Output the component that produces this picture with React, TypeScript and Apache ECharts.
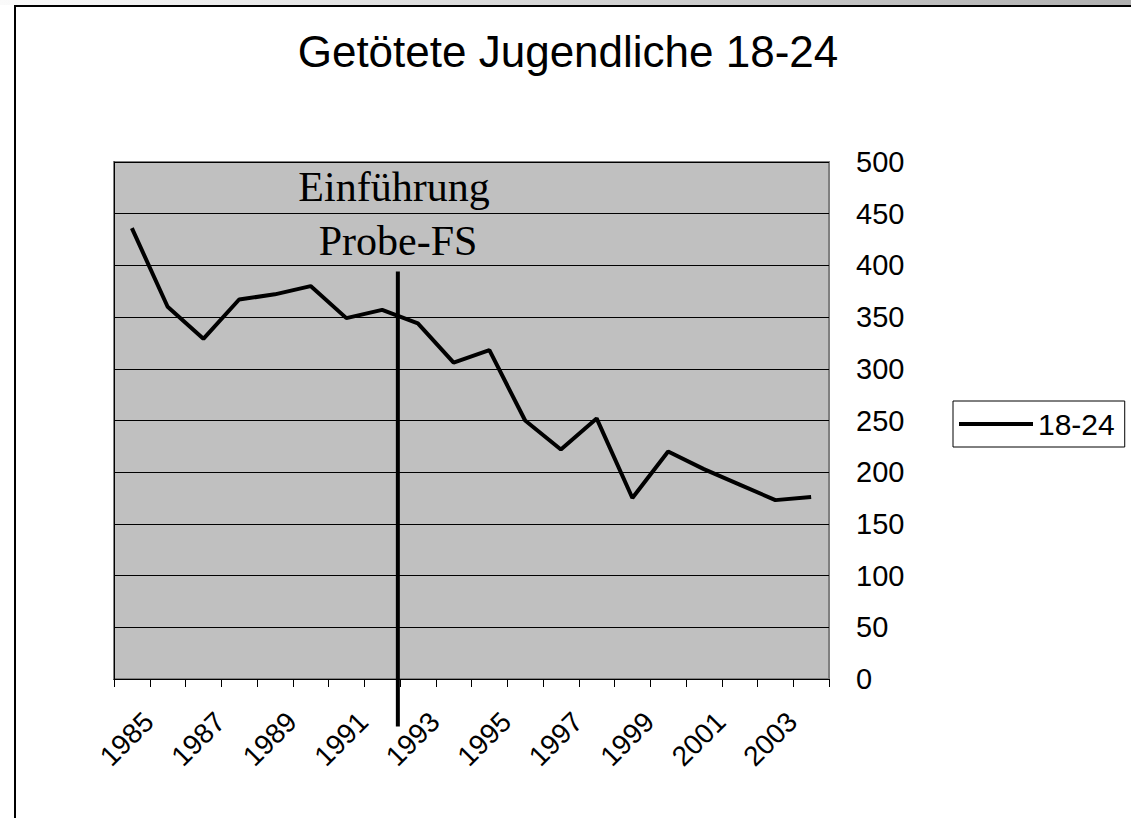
import React, { useEffect, useRef } from "react";
import * as echarts from "echarts";

const years = [
  "1985", "1986", "1987", "1988", "1989", "1990", "1991", "1992", "1993", "1994",
  "1995", "1996", "1997", "1998", "1999", "2000", "2001", "2002", "2003", "2004",
];
const killed1824 = [436, 360, 329, 367, 372, 380, 349, 357, 344, 306, 318, 250, 222, 252, 175, 220, 203, 188, 173, 176];
const seriesName = "18-24";
const titleText = "Getötete Jugendliche 18-24";
const markerLabel = ["Einführung", "Probe-FS"];
const markerPos = 7.94; // between 1992 and 1993 (category index units)
const markerRange = [394, -46];

export default function App() {
  const ref = useRef<HTMLDivElement>(null);
  useEffect(() => {
    if (!ref.current) return;
    const chart = echarts.init(ref.current, undefined, { renderer: "svg" });
    chart.setOption({
      animation: false,
      backgroundColor: "#ffffff",
      title: {
        text: titleText,
        left: 563,
        textAlign: "center",
        top: 24,
        textStyle: { fontFamily: "Liberation Sans", fontSize: 44, fontWeight: "normal", color: "#000" },
      },
      legend: {
        data: [{ name: seriesName, icon: "rect" }],
        left: 953,
        top: 401,
        orient: "vertical",
        itemWidth: 74,
        itemHeight: 4,
        itemGap: 0,
        padding: [8, 10, 8, 6],
        borderColor: "#000",
        borderWidth: 1,
        backgroundColor: "#fff",
        borderRadius: 0,
        textStyle: { fontFamily: "Liberation Sans", fontSize: 30, lineHeight: 30, color: "#000" },
      },
      grid: [
        {
          left: 114,
          top: 162,
          width: 715,
          height: 517,
          show: true,
          backgroundColor: "#c0c0c0",
          borderColor: "#808080",
          borderWidth: 2,
        },
        {
          left: 131,
          top: 162,
          width: 715,
          height: 517,
          show: false,
        },
      ],
      xAxis: [
        {
          type: "category",
          data: years,
          gridIndex: 0,
          boundaryGap: true,
          axisLine: { lineStyle: { color: "#000", width: 1 } },
          axisTick: { show: true, interval: 0, length: 8, lineStyle: { color: "#000" } },
          axisLabel: { show: false },
          splitLine: { show: false },
        },
        {
          type: "value",
          gridIndex: 0,
          min: 0,
          max: 20,
          show: false,
        },
        {
          type: "category",
          data: years,
          gridIndex: 1,
          boundaryGap: true,
          axisLine: { show: false },
          axisTick: { show: false },
          axisLabel: {
            interval: 1,
            rotate: 45,
            margin: 38,
            fontFamily: "Liberation Sans",
            fontSize: 28,
            color: "#000",
          },
          splitLine: { show: false },
        },
      ],
      yAxis: [
        {
          type: "value",
          gridIndex: 0,
          position: "right",
          min: 0,
          max: 500,
          interval: 50,
          axisLine: { show: true, lineStyle: { color: "#000", width: 1 } },
          axisTick: { show: true, length: 11, inside: false, lineStyle: { color: "#000" } },
          axisLabel: {
            margin: 27,
            fontFamily: "Liberation Sans",
            fontSize: 29,
            color: "#000",
          },
          splitLine: { show: true, lineStyle: { color: "#000", width: 1 } },
        },
        {
          type: "value",
          gridIndex: 1,
          min: 0,
          max: 500,
          show: false,
        },
      ],
      series: [
        {
          name: seriesName,
          type: "line",
          xAxisIndex: 0,
          yAxisIndex: 0,
          data: killed1824,
          showSymbol: false,
          symbol: "none",
          lineStyle: { color: "#000", width: 4 },
          itemStyle: { color: "#000" },
        },
        {
          name: "marker",
          type: "line",
          xAxisIndex: 1,
          yAxisIndex: 0,
          data: [[markerPos, markerRange[0]], [markerPos, markerRange[1]]],
          clip: false,
          showSymbol: false,
          symbol: "none",
          lineStyle: { color: "#000", width: 4 },
          silent: true,
          z: 5,
        },
        {
          name: "labels",
          type: "line",
          xAxisIndex: 2,
          yAxisIndex: 1,
          data: [],
          silent: true,
        },
      ],
      graphic: [
        {
          type: "rect",
          left: 0,
          top: 0,
          shape: { width: 1131, height: 5 },
          style: {
            fill: new echarts.graphic.LinearGradient(0, 0, 1, 0, [
              { offset: 0, color: "#fafafa" },
              { offset: 1, color: "#b0b0b0" },
            ]),
          },
          silent: true,
        },
        {
          type: "rect",
          shape: { x: 15, y: 6, width: 1200, height: 900 },
          style: { fill: "none", stroke: "#000", lineWidth: 2 },
          silent: true,
          z: 10,
        },
        {
          type: "text",
          x: 394,
          y: 208,
          style: {
            text: markerLabel[0],
            fontFamily: "Liberation Serif",
            fontSize: 42,
            fill: "#000",
            align: "center",
            verticalAlign: "bottom",
          },
          z: 20,
        },
        {
          type: "text",
          x: 398,
          y: 262,
          style: {
            text: markerLabel[1],
            fontFamily: "Liberation Serif",
            fontSize: 42,
            fill: "#000",
            align: "center",
            verticalAlign: "bottom",
          },
          z: 20,
        },
      ],
    });
    return () => chart.dispose();
  }, []);
  return (
    <div
      ref={ref}
      style={{ position: "fixed", left: 0, top: 0, width: 1131, height: 818, background: "#fff" }}
    />
  );
}
